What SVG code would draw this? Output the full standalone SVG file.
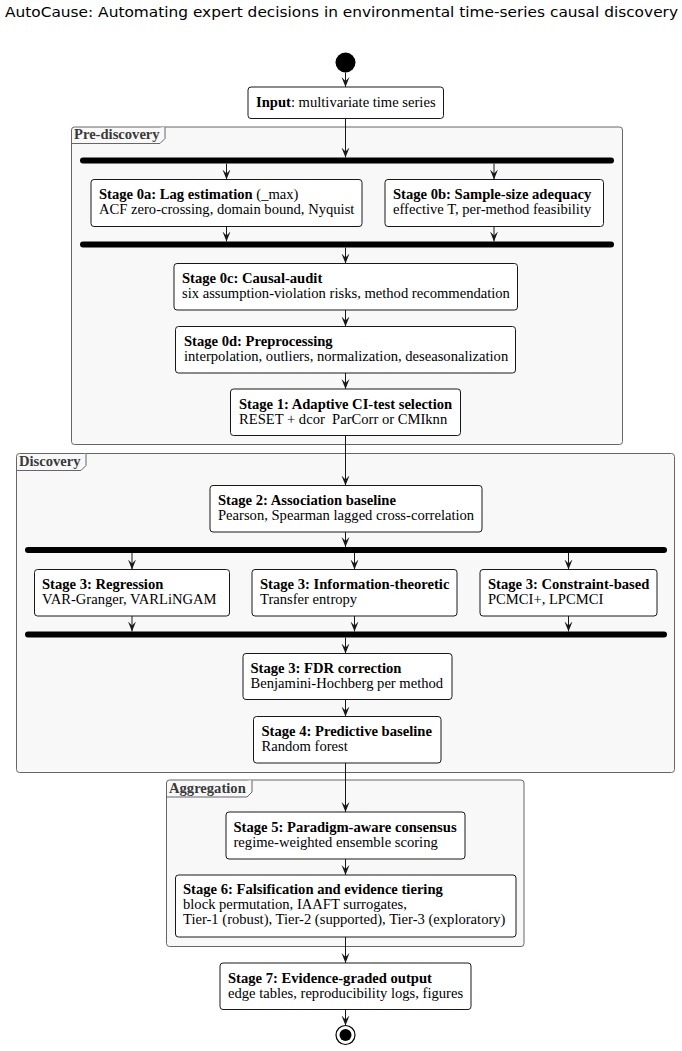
<svg xmlns="http://www.w3.org/2000/svg" width="682" height="1051" viewBox="0 0 682 1051">
<style>
.t{font-family:"Liberation Serif","Times New Roman",serif;font-size:14.6px;fill:#000}
.b{font-weight:bold}
.node{fill:#ffffff;stroke:#181818;stroke-width:1}
.frame{fill:#f8f8f8;stroke:#666666;stroke-width:1}
.tab{fill:#f8f8f8;stroke:#666666;stroke-width:1}
.flabel{font-family:"Liberation Serif","Times New Roman",serif;font-size:14.6px;font-weight:bold;fill:#3a3a3a}
.bar{fill:#000000}
.conn line{stroke:#181818;stroke-width:1;fill:none;marker-end:url(#ah)}
.title{font-family:"DejaVu Sans","Noto Sans",sans-serif;font-size:14px;fill:#000}
</style>
<defs>
<marker id="ah" viewBox="0 0 10 10" refX="10" refY="5" markerWidth="10" markerHeight="10" markerUnits="userSpaceOnUse" orient="auto">
<path d="M0,1 L10,5 L0,9 L4,5 Z" fill="#181818"/>
</marker>
</defs>
<rect width="682" height="1051" fill="#ffffff"/>
<text class="title" x="5" y="17" textLength="673" lengthAdjust="spacingAndGlyphs">AutoCause: Automating expert decisions in environmental time-series causal discovery</text>

<g id="frame-prediscovery">
<rect class="frame" x="71.5" y="127" width="551" height="317.5" rx="3"/>
<path class="tab" d="M71.5,143.5 L160,143.5 L165,138.5 L165,127"/>
<text class="flabel" x="74" y="139">Pre-discovery</text>
</g>
<g id="frame-discovery">
<rect class="frame" x="16.5" y="453.5" width="658" height="319" rx="3"/>
<path class="tab" d="M16.5,470.5 L81,470.5 L86,465.5 L86,453.5"/>
<text class="flabel" x="19" y="466">Discovery</text>
</g>
<g id="frame-aggregation">
<rect class="frame" x="166.5" y="780" width="357.5" height="166.5" rx="3"/>
<path class="tab" d="M166.5,797 L247,797 L252,792 L252,780"/>
<text class="flabel" x="169" y="793">Aggregation</text>
</g>

<g id="start"><circle cx="345.5" cy="62.5" r="10" fill="#000"/></g>

<g id="input">
<rect class="node" x="248" y="87" width="195.5" height="31.5" rx="3"/>
<text class="t" x="256" y="107"><tspan class="b">Input</tspan>: multivariate time series</text>
</g>

<g id="bar1"><rect class="bar" x="80" y="157.5" width="534" height="6" rx="3"/></g>

<g id="stage0a">
<rect class="node" x="91" y="179.5" width="271" height="47" rx="3"/>
<text class="t" x="99" y="198.5"><tspan class="b">Stage 0a: Lag estimation</tspan> (_max)</text>
<text class="t" x="99" y="214">ACF zero-crossing, domain bound, Nyquist</text>
</g>
<g id="stage0b">
<rect class="node" x="385" y="179.5" width="218.5" height="47" rx="3"/>
<text class="t b" x="393" y="198.5">Stage 0b: Sample-size adequacy</text>
<text class="t" x="393" y="214">effective T, per-method feasibility</text>
</g>

<g id="bar2"><rect class="bar" x="80" y="241.5" width="534" height="6" rx="3"/></g>

<g id="stage0c">
<rect class="node" x="174" y="263.5" width="343.5" height="46.5" rx="3"/>
<text class="t b" x="182" y="283">Stage 0c: Causal-audit</text>
<text class="t" x="182" y="298">six assumption-violation risks, method recommendation</text>
</g>
<g id="stage0d">
<rect class="node" x="175.5" y="326.5" width="340" height="46.5" rx="3"/>
<text class="t b" x="184" y="345.5">Stage 0d: Preprocessing</text>
<text class="t" x="184" y="361">interpolation, outliers, normalization, deseasonalization</text>
</g>
<g id="stage1">
<rect class="node" x="230.5" y="389" width="230" height="46.5" rx="3"/>
<text class="t b" x="239" y="408.5">Stage 1: Adaptive CI-test selection</text>
<text class="t" x="239" y="424">RESET + dcor&#160; ParCorr or CMIknn</text>
</g>

<g id="stage2">
<rect class="node" x="210" y="485.5" width="272" height="46.5" rx="3"/>
<text class="t b" x="218" y="504.5">Stage 2: Association baseline</text>
<text class="t" x="218" y="520">Pearson, Spearman lagged cross-correlation</text>
</g>

<g id="bar3"><rect class="bar" x="25" y="547" width="642" height="6" rx="3"/></g>

<g id="stage3-regression">
<rect class="node" x="34.5" y="569.5" width="195" height="46.5" rx="3"/>
<text class="t b" x="42" y="588.5">Stage 3: Regression</text>
<text class="t" x="42" y="604">VAR-Granger, VARLiNGAM</text>
</g>
<g id="stage3-info">
<rect class="node" x="252" y="569.5" width="205" height="46.5" rx="3"/>
<text class="t b" x="260" y="588.5">Stage 3: Information-theoretic</text>
<text class="t" x="260" y="604">Transfer entropy</text>
</g>
<g id="stage3-constraint">
<rect class="node" x="480" y="569.5" width="177" height="46.5" rx="3"/>
<text class="t b" x="488" y="588.5">Stage 3: Constraint-based</text>
<text class="t" x="488" y="604">PCMCI+, LPCMCI</text>
</g>

<g id="bar4"><rect class="bar" x="25" y="631.5" width="642" height="6" rx="3"/></g>

<g id="stage3-fdr">
<rect class="node" x="243" y="653.5" width="209" height="46" rx="3"/>
<text class="t b" x="250.5" y="672.5">Stage 3: FDR correction</text>
<text class="t" x="250.5" y="688">Benjamini-Hochberg per method</text>
</g>
<g id="stage4">
<rect class="node" x="253.5" y="716.5" width="187.5" height="46.5" rx="3"/>
<text class="t b" x="261.5" y="735.5">Stage 4: Predictive baseline</text>
<text class="t" x="261.5" y="751">Random forest</text>
</g>

<g id="stage5">
<rect class="node" x="226" y="812" width="239" height="47" rx="3"/>
<text class="t b" x="233.5" y="831.5">Stage 5: Paradigm-aware consensus</text>
<text class="t" x="233.5" y="847">regime-weighted ensemble scoring</text>
</g>
<g id="stage6">
<rect class="node" x="175.5" y="875" width="340.5" height="62" rx="3"/>
<text class="t b" x="183" y="893.5">Stage 6: Falsification and evidence tiering</text>
<text class="t" x="183" y="909">block permutation, IAAFT surrogates,</text>
<text class="t" x="183" y="924">Tier-1 (robust), Tier-2 (supported), Tier-3 (exploratory)</text>
</g>
<g id="stage7">
<rect class="node" x="220" y="963" width="251" height="46.5" rx="3"/>
<text class="t b" x="228" y="982.5">Stage 7: Evidence-graded output</text>
<text class="t" x="228" y="998">edge tables, reproducibility logs, figures</text>
</g>

<g id="end">
<circle cx="345.5" cy="1035" r="9.5" fill="#fff" stroke="#000" stroke-width="1.2"/>
<circle cx="345.5" cy="1035" r="6" fill="#000"/>
</g>

<g id="connectors" class="conn">
<line x1="345.5" y1="72.5" x2="345.5" y2="87"/>
<line x1="345.5" y1="118.5" x2="345.5" y2="157.5"/>
<line x1="226.5" y1="163.5" x2="226.5" y2="179.5"/>
<line x1="494" y1="163.5" x2="494" y2="179.5"/>
<line x1="226.5" y1="226.5" x2="226.5" y2="241.5"/>
<line x1="494" y1="226.5" x2="494" y2="241.5"/>
<line x1="345.5" y1="247.5" x2="345.5" y2="263.5"/>
<line x1="345.5" y1="310" x2="345.5" y2="326.5"/>
<line x1="345.5" y1="373" x2="345.5" y2="389"/>
<line x1="345.5" y1="435.5" x2="345.5" y2="485.5"/>
<line x1="345.5" y1="532" x2="345.5" y2="547"/>
<line x1="132" y1="553" x2="132" y2="569.5"/>
<line x1="354.5" y1="553" x2="354.5" y2="569.5"/>
<line x1="568.5" y1="553" x2="568.5" y2="569.5"/>
<line x1="132" y1="616" x2="132" y2="631.5"/>
<line x1="354.5" y1="616" x2="354.5" y2="631.5"/>
<line x1="568.5" y1="616" x2="568.5" y2="631.5"/>
<line x1="345.5" y1="637.5" x2="345.5" y2="653.5"/>
<line x1="345.5" y1="699.5" x2="345.5" y2="716.5"/>
<line x1="345.5" y1="763" x2="345.5" y2="812"/>
<line x1="345.5" y1="859" x2="345.5" y2="875"/>
<line x1="345.5" y1="937" x2="345.5" y2="963"/>
<line x1="345.5" y1="1009.5" x2="345.5" y2="1025.5"/>
</g>
</svg>
